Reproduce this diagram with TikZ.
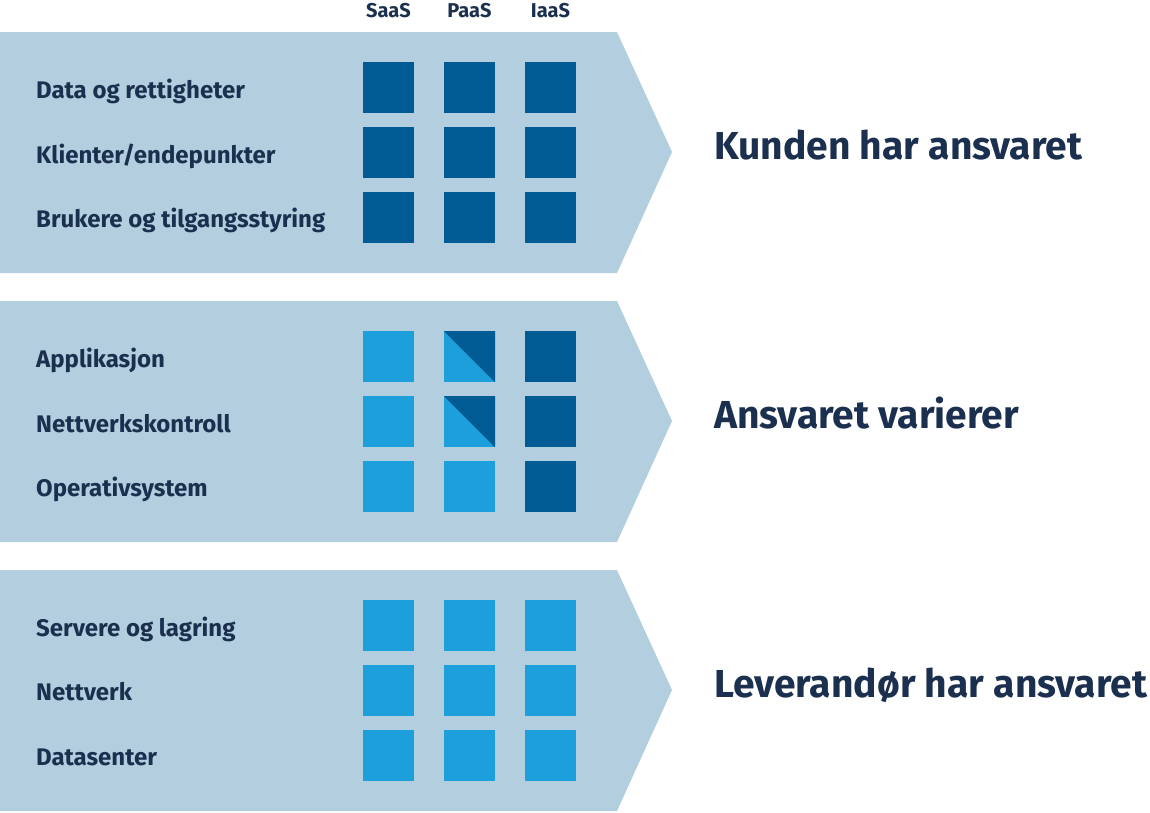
\documentclass[tikz,border=0pt]{standalone}
\usepackage{fontspec}
\setmainfont{Fira Sans}
\definecolor{bandblue}{HTML}{B3CEDF}
\definecolor{darkbox}{HTML}{005A94}
\definecolor{lightbox}{HTML}{1C9FDA}
\definecolor{navytext}{HTML}{1B2F4E}

\begin{document}
\begin{tikzpicture}[x=1pt, y=-1pt,
          band/.style={fill=bandblue},
          cell/.style={minimum size=51pt, inner sep=0pt, outer sep=0pt},
          dk/.style={cell, fill=darkbox},
          lt/.style={cell, fill=lightbox},
          rowlabel/.style={anchor=base west, inner sep=0pt, text=navytext,
            font=\fontsize{24}{28}\selectfont\bfseries},
          colhead/.style={anchor=base, inner sep=0pt, text=navytext,
            font=\fontsize{20}{24}\selectfont\bfseries},
          verdict/.style={anchor=base west, inner sep=0pt, text=navytext,
            font=\fontsize{39}{44}\selectfont\bfseries},
        ]
          \useasboundingbox (0,0) rectangle (1150,812);
          % the three arrow bands
          \fill[band] (0,32)  -- (617,32)  -- (672,152) -- (617,273) -- (0,273) -- cycle;
          \fill[band] (0,301) -- (617,301) -- (672,421) -- (617,542) -- (0,542) -- cycle;
          \fill[band] (0,570) -- (617,570) -- (672,690) -- (617,811) -- (0,811) -- cycle;

          \node[colhead] (saas) at (388.5,17) {SaaS};
          \node[colhead] (paas) at (469.5,17) {PaaS};
          \node[colhead] (iaas) at (550.5,17) {IaaS};

          % customer
          \node[rowlabel] (data) at (36,98)  {Data og rettigheter};
          \node[rowlabel] (klie) at (36,163) {Klienter/endepunkter};
          \node[rowlabel] (bruk) at (36,227) {Brukere og tilgangsstyring};
          \node[dk] (s1) at (388.5,87.5)  {};
          \node[dk] (p1) at (469.5,87.5)  {};
          \node[dk] (i1) at (550.5,87.5)  {};
          \node[dk] (s2) at (388.5,152.5) {};
          \node[dk] (p2) at (469.5,152.5) {};
          \node[dk] (i2) at (550.5,152.5) {};
          \node[dk] (s3) at (388.5,217.5) {};
          \node[dk] (p3) at (469.5,217.5) {};
          \node[dk] (i3) at (550.5,217.5) {};
          \node[verdict] (kunde) at (714,159) {Kunden har ansvaret};

          % shared
          \node[rowlabel] (appl) at (36,367) {Applikasjon};
          \node[rowlabel] (nkon) at (36,432) {Nettverkskontroll};
          \node[rowlabel] (osys) at (36,496) {Operativsystem};
          \node[lt] (s4) at (388.5,356.5) {};
          \node[lt] (p4) at (469.5,356.5) {};
          \node[dk] (i4) at (550.5,356.5) {};
          \node[lt] (s5) at (388.5,421.5) {};
          \node[lt] (p5) at (469.5,421.5) {};
          \node[dk] (i5) at (550.5,421.5) {};
          \node[lt] (s6) at (388.5,486.5) {};
          \node[lt] (p6) at (469.5,486.5) {};
          \node[dk] (i6) at (550.5,486.5) {};
          \fill[darkbox] (p4.north west) -- (p4.north east) -- (p4.south east) -- cycle;
          \fill[darkbox] (p5.north west) -- (p5.north east) -- (p5.south east) -- cycle;
          \node[verdict] (varier) at (714,428) {Ansvaret varierer};

          % provider
          \node[rowlabel] (serv) at (36,636) {Servere og lagring};
          \node[rowlabel] (nett) at (36,700) {Nettverk};
          \node[rowlabel] (dsen) at (36,765) {Datasenter};
          \node[lt] (s7) at (388.5,625.5) {};
          \node[lt] (p7) at (469.5,625.5) {};
          \node[lt] (i7) at (550.5,625.5) {};
          \node[lt] (s8) at (388.5,690.5) {};
          \node[lt] (p8) at (469.5,690.5) {};
          \node[lt] (i8) at (550.5,690.5) {};
          \node[lt] (s9) at (388.5,755.5) {};
          \node[lt] (p9) at (469.5,755.5) {};
          \node[lt] (i9) at (550.5,755.5) {};
          \node[verdict] (lever) at (714,697) {Leverandør har ansvaret};
        \end{tikzpicture}
\end{document}
